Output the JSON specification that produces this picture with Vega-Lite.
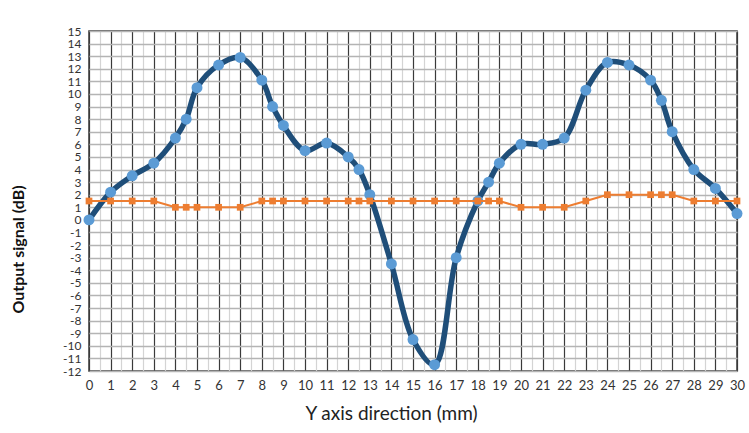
{
  "$schema": "https://vega.github.io/schema/vega-lite/v6.json",
  "autosize": "none",
  "width": 648,
  "height": 340,
  "padding": {"left": 89, "top": 31, "right": 12, "bottom": 63},
  "background": "white",
  "config": {
    "font": "Lato",
    "view": {"stroke": "#3a3a3a", "strokeWidth": 1.5}
  },
  "data": {
    "values": [
      {"x": 0, "signal": 0, "ref": 1.5},
      {"x": 1, "signal": 2.2, "ref": 1.5},
      {"x": 2, "signal": 3.5, "ref": 1.5},
      {"x": 3, "signal": 4.5, "ref": 1.5},
      {"x": 4, "signal": 6.5, "ref": 1},
      {"x": 4.5, "signal": 8, "ref": 1},
      {"x": 5, "signal": 10.5, "ref": 1},
      {"x": 6, "signal": 12.3, "ref": 1},
      {"x": 7, "signal": 12.9, "ref": 1},
      {"x": 8, "signal": 11.1, "ref": 1.5},
      {"x": 8.5, "signal": 9, "ref": 1.5},
      {"x": 9, "signal": 7.5, "ref": 1.5},
      {"x": 10, "signal": 5.5, "ref": 1.5},
      {"x": 11, "signal": 6.1, "ref": 1.5},
      {"x": 12, "signal": 5, "ref": 1.5},
      {"x": 12.5, "signal": 4, "ref": 1.5},
      {"x": 13, "signal": 2, "ref": 1.5},
      {"x": 14, "signal": -3.5, "ref": 1.5},
      {"x": 15, "signal": -9.5, "ref": 1.5},
      {"x": 16, "signal": -11.5, "ref": 1.5},
      {"x": 17, "signal": -3, "ref": 1.5},
      {"x": 18, "signal": 1.5, "ref": 1.5},
      {"x": 18.5, "signal": 3, "ref": 1.5},
      {"x": 19, "signal": 4.5, "ref": 1.5},
      {"x": 20, "signal": 6, "ref": 1},
      {"x": 21, "signal": 6, "ref": 1},
      {"x": 22, "signal": 6.5, "ref": 1},
      {"x": 23, "signal": 10.3, "ref": 1.5},
      {"x": 24, "signal": 12.5, "ref": 2},
      {"x": 25, "signal": 12.3, "ref": 2},
      {"x": 26, "signal": 11.1, "ref": 2},
      {"x": 26.5, "signal": 9.5, "ref": 2},
      {"x": 27, "signal": 7, "ref": 2},
      {"x": 28, "signal": 4, "ref": 1.5},
      {"x": 29, "signal": 2.5, "ref": 1.5},
      {"x": 30, "signal": 0.5, "ref": 1.5}
    ]
  },
  "transform": [
    {"fold": ["signal", "ref"], "as": ["series", "value"]}
  ],
  "encoding": {
    "x": {
      "field": "x",
      "type": "quantitative",
      "scale": {"domain": [0, 30], "nice": false, "zero": false},
      "axis": {
        "title": "Y axis direction (mm)",
        "values": [0,0.5,1,1.5,2,2.5,3,3.5,4,4.5,5,5.5,6,6.5,7,7.5,8,8.5,9,9.5,10,10.5,11,11.5,12,12.5,13,13.5,14,14.5,15,15.5,16,16.5,17,17.5,18,18.5,19,19.5,20,20.5,21,21.5,22,22.5,23,23.5,24,24.5,25,25.5,26,26.5,27,27.5,28,28.5,29,29.5,30],
        "labelExpr": "datum.value % 1 === 0 ? '' + datum.value : ''",
        "labelFontSize": 13,
        "labelColor": "#333",
        "labelPadding": 8,
        "labelFlush": false,
        "labelOverlap": false,
        "ticks": false,
        "domain": false,
        "grid": true,
        "gridColor": {"condition": {"test": "datum.value % 1 === 0", "value": "#3a3a3a"}, "value": "#d4d4d4"},
        "gridWidth": 1.2,
        "gridOpacity": 1,
        "titleFontSize": 19,
        "titleFontWeight": "normal",
        "titleColor": "#222",
        "titleX": 302,
        "titleY": 42,
        "titleBaseline": "middle",
        "titleAlign": "center"
      }
    },
    "y": {
      "field": "value",
      "type": "quantitative",
      "scale": {"domain": [-12, 15], "nice": false, "zero": false},
      "axis": {
        "title": "Output signal (dB)",
        "values": [-12,-11,-10,-9,-8,-7,-6,-5,-4,-3,-2,-1,0,1,2,3,4,5,6,7,8,9,10,11,12,13,14,15],
        "labelExpr": "'' + datum.value",
        "labelFontSize": 12,
        "labelColor": "#333",
        "labelPadding": 8,
        "labelFlush": false,
        "labelOverlap": false,
        "labelBaseline": "middle",
        "ticks": false,
        "domain": false,
        "grid": true,
        "gridColor": "#b4b4b4",
        "gridWidth": 1.5,
        "titleFontSize": 16,
        "titleFontWeight": "bold",
        "titleColor": "#111",
        "titleAngle": -90,
        "titleX": -71,
        "titleY": 218,
        "titleAlign": "center",
        "titleBaseline": "middle"
      }
    }
  },
  "layer": [
    {
      "transform": [{"filter": "datum.series === 'signal'"}],
      "mark": {"type": "line", "interpolate": "catmull-rom", "color": "#1f4e79", "strokeWidth": 5.5}
    },
    {
      "transform": [{"filter": "datum.series === 'signal'"}],
      "mark": {"type": "point", "shape": "circle", "filled": true, "color": "#5b9bd5", "opacity": 1, "size": 120}
    },
    {
      "transform": [{"filter": "datum.series === 'ref'"}],
      "mark": {"type": "line", "color": "#ed7d31", "strokeWidth": 2}
    },
    {
      "transform": [{"filter": "datum.series === 'ref'"}],
      "mark": {"type": "point", "shape": "square", "filled": true, "color": "#ed7d31", "opacity": 1, "size": 45}
    }
  ]
}
